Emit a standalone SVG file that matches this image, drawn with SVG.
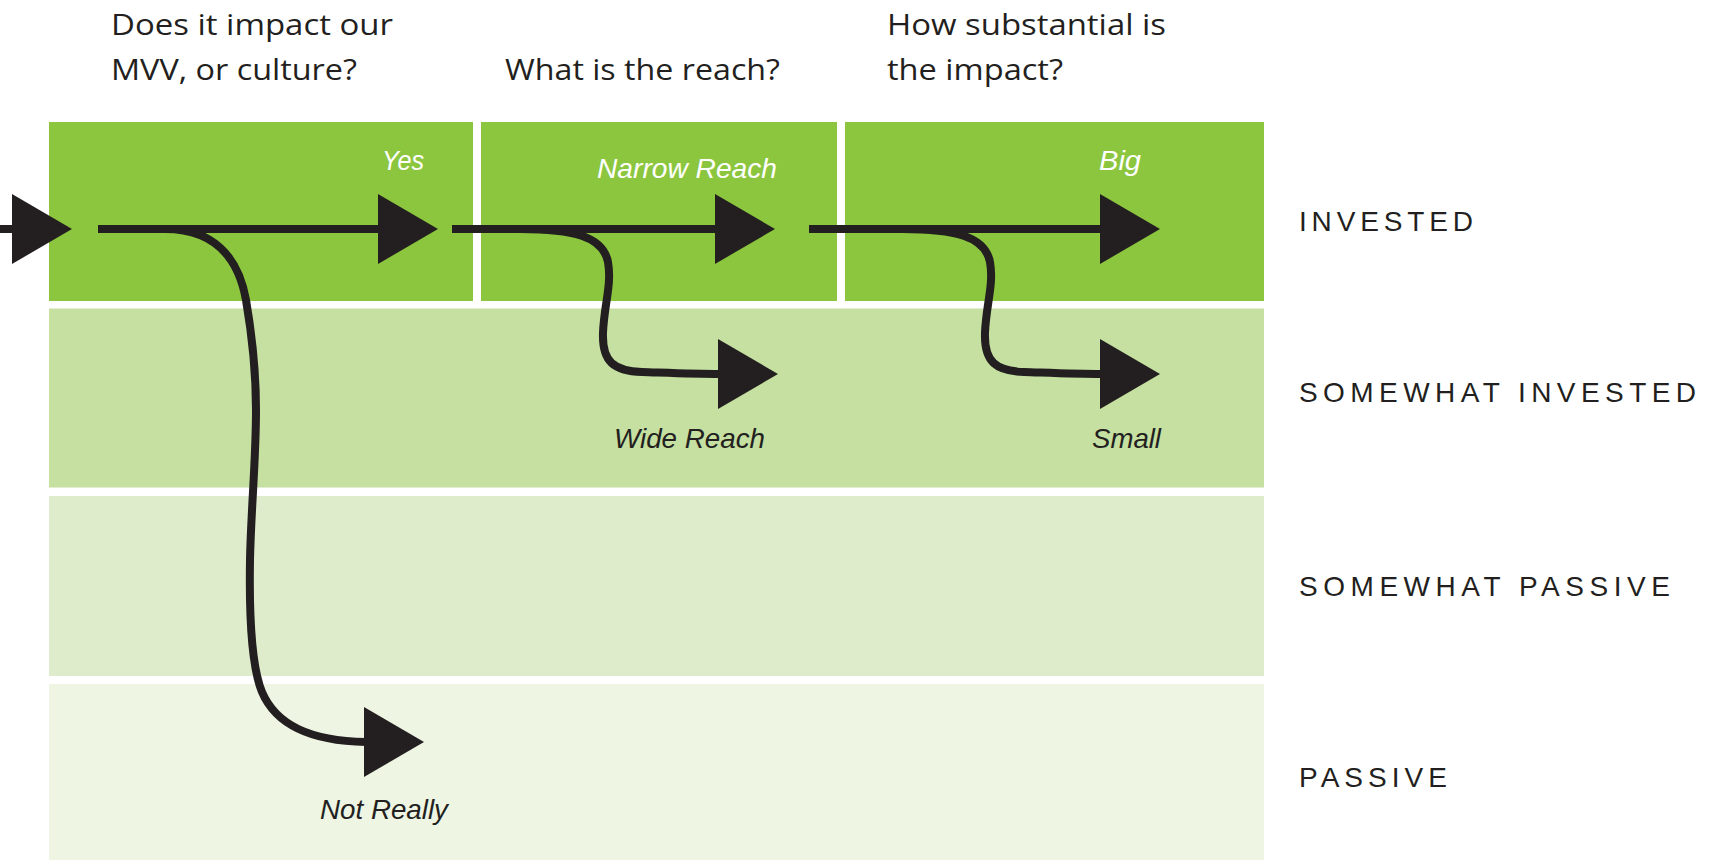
<svg xmlns="http://www.w3.org/2000/svg" xmlns:xlink="http://www.w3.org/1999/xlink" width="1723" height="860" viewBox="0 0 1723 860">
<style>
.r1{fill:#8cc63f}
.r2{fill:#c5e0a0}
.r3{fill:#deeccc}
.r4{fill:#eef5e3}
.q{font-family:"Open Sans","Noto Sans","Liberation Sans",sans-serif;font-size:30px;fill:#231f20}
.it{font-family:"Liberation Sans",Arial,sans-serif;font-style:italic;font-size:28px}
.w{fill:#ffffff}
.d{fill:#231f20}
.lvl{font-family:"Liberation Sans",Arial,sans-serif;font-size:28px;fill:#231f20}
.ln{fill:none;stroke:#231f20;stroke-width:8}
.hd{fill:#231f20}
</style>
<defs>
<path id="head" d="M0,-35 L60,0 L0,35 Z"/>
</defs>
<rect width="1723" height="860" fill="#ffffff"/>
<g id="rows">
<rect id="row-invested-1" class="r1" x="49" y="122" width="424" height="179"/>
<rect id="row-invested-2" class="r1" x="481" y="122" width="356" height="179"/>
<rect id="row-invested-3" class="r1" x="845" y="122" width="419" height="179"/>
<rect id="row-somewhat-invested" class="r2" x="49" y="308.5" width="1215" height="179"/>
<rect id="row-somewhat-passive" class="r3" x="49" y="496" width="1215" height="180"/>
<rect id="row-passive" class="r4" x="49" y="684" width="1215" height="176"/>
</g>
<g id="questions">
<text class="q" x="111" y="35" textLength="282" lengthAdjust="spacingAndGlyphs">Does it impact our</text>
<text class="q" x="111" y="80" textLength="246" lengthAdjust="spacingAndGlyphs">MVV, or culture?</text>
<text class="q" x="505" y="80" textLength="275" lengthAdjust="spacingAndGlyphs">What is the reach?</text>
<text class="q" x="887" y="35" textLength="279" lengthAdjust="spacingAndGlyphs">How substantial is</text>
<text class="q" x="887" y="80" textLength="176" lengthAdjust="spacingAndGlyphs">the impact?</text>
</g>
<g id="levels">
<text class="lvl" x="1299" y="231" textLength="174" lengthAdjust="spacing">INVESTED</text>
<text class="lvl" x="1299" y="402" textLength="397" lengthAdjust="spacing">SOMEWHAT INVESTED</text>
<text class="lvl" x="1299" y="596" textLength="371" lengthAdjust="spacing">SOMEWHAT PASSIVE</text>
<text class="lvl" x="1299" y="787" textLength="148" lengthAdjust="spacing">PASSIVE</text>
</g>
<g id="connectors">
<line class="ln" x1="0" y1="229" x2="14" y2="229"/>
<use xlink:href="#head" class="hd" transform="translate(12,229)"/>
<line class="ln" x1="98" y1="229" x2="380" y2="229"/>
<use xlink:href="#head" class="hd" transform="translate(378,229)"/>
<line class="ln" x1="452" y1="229" x2="717" y2="229"/>
<use xlink:href="#head" class="hd" transform="translate(715,229)"/>
<line class="ln" x1="809" y1="229" x2="1102" y2="229"/>
<use xlink:href="#head" class="hd" transform="translate(1100,229)"/>
<path class="ln" d="M 165 229 C 212 229, 238 255, 246 300 C 252 335, 256 370, 256 410 C 256 460, 251 510, 250 560 C 249 620, 252 668, 262 692 C 276 725, 310 741, 366 742"/>
<use xlink:href="#head" class="hd" transform="translate(364,742)"/>
<path class="ln" d="M 520 229 C 572 229, 603 236, 608 262 C 612 285, 604 305, 603 333 C 602 362, 614 371, 642 372 C 672 373, 695 374, 720 374"/>
<use xlink:href="#head" class="hd" transform="translate(718,374)"/>
<path class="ln" d="M 902 229 C 954 229, 985 236, 990 262 C 994 285, 986 305, 985 333 C 984 362, 996 371, 1024 372 C 1054 373, 1077 374, 1102 374"/>
<use xlink:href="#head" class="hd" transform="translate(1100,374)"/>
</g>
<g id="answers">
<text class="it w" x="382" y="170" textLength="42" lengthAdjust="spacingAndGlyphs">Yes</text>
<text class="it w" x="597" y="178" textLength="180" lengthAdjust="spacingAndGlyphs">Narrow Reach</text>
<text class="it w" x="1099" y="170" textLength="42" lengthAdjust="spacingAndGlyphs">Big</text>
<text class="it d" x="614" y="448" textLength="151" lengthAdjust="spacingAndGlyphs">Wide Reach</text>
<text class="it d" x="1092" y="448" textLength="69" lengthAdjust="spacingAndGlyphs">Small</text>
<text class="it d" x="320" y="819" textLength="128" lengthAdjust="spacingAndGlyphs">Not Really</text>
</g>
</svg>
